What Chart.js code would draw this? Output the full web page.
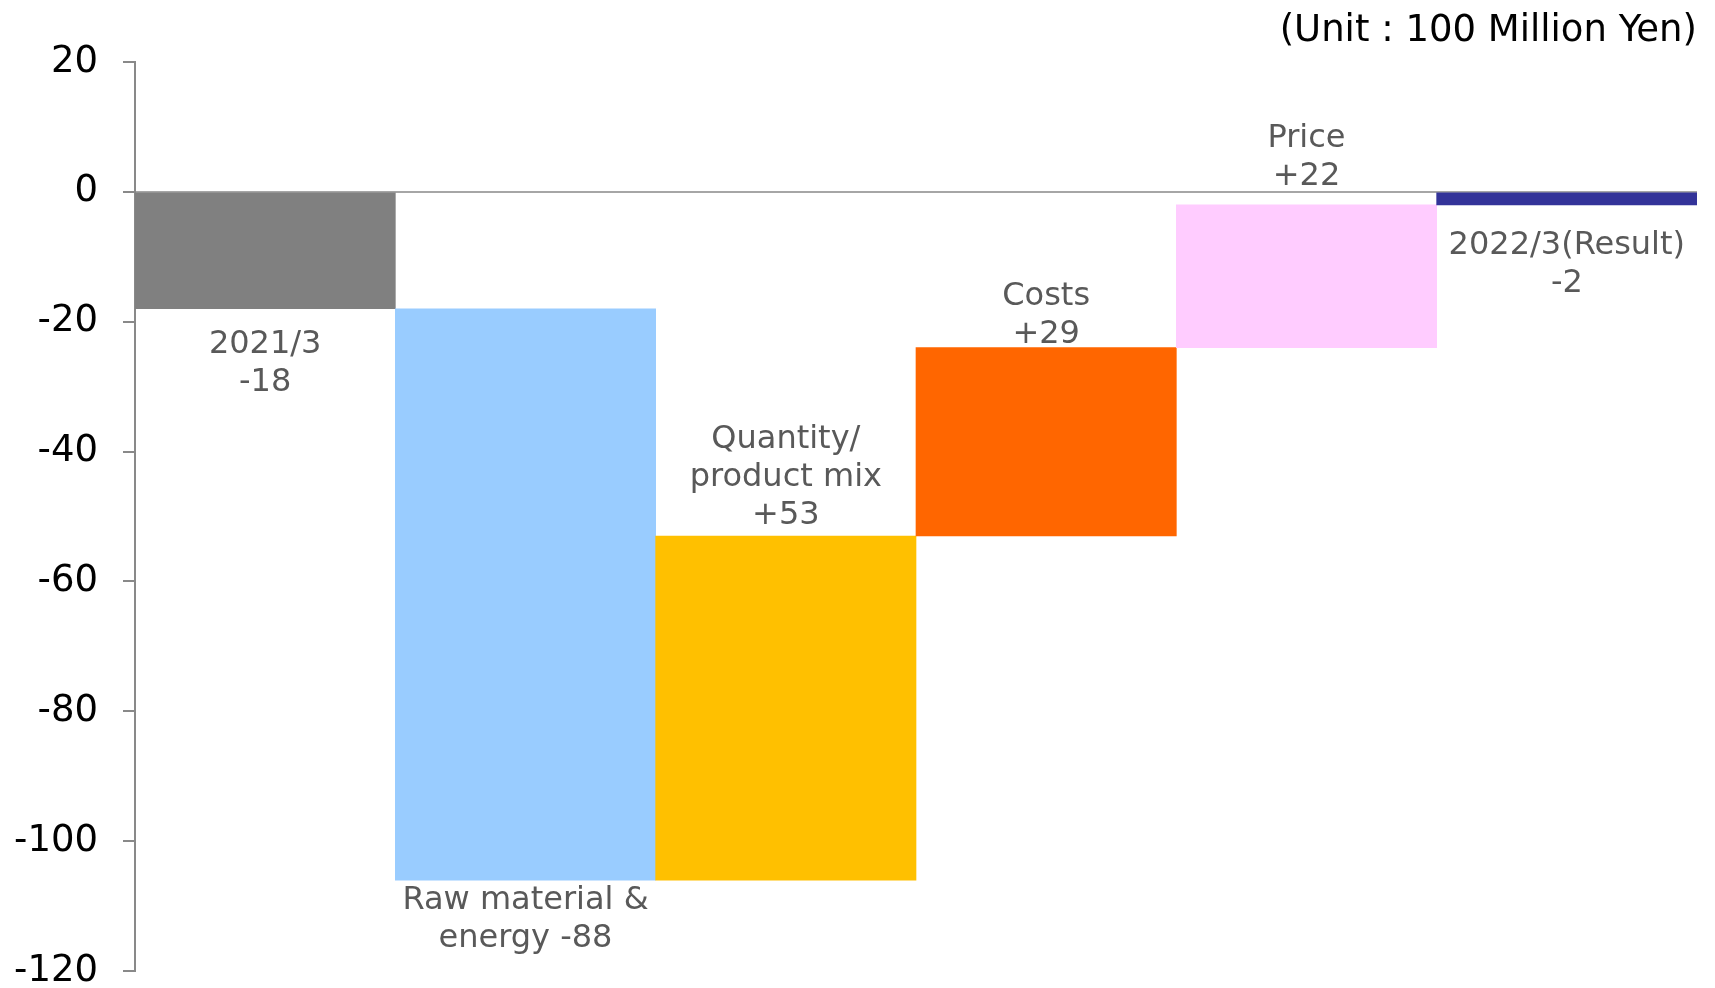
<!DOCTYPE html>
<html>
<head>
<meta charset="utf-8">
<script src="https://cdn.jsdelivr.net/npm/chart.js@4"></script>
<style>
  html, body { margin: 0; padding: 0; background: #fff; }
  #wrap { width: 1715px; height: 988px; }
</style>
</head>
<body>
<div id="wrap"><canvas id="js--chart"></canvas></div>
<script>
// categories and waterfall steps (start, end) in 100 million yen
const categories = ["2021/3", "Raw material & energy", "Quantity/product mix", "Costs", "Price", "2022/3(Result)"];
const barStart = [0, -18, -106, -53, -24, 0];
const barEnd = [-18, -106, -53, -24, -2, -2];
const labelLines = [
  ["2021/3", "-18"],
  ["Raw material &", "energy -88"],
  ["Quantity/", "product mix", "+53"],
  ["Costs", "+29"],
  ["Price", "+22"],
  ["2022/3(Result)", "-2"]
];
const labelBelow = [true, true, false, false, false, true];
const yTicks = [20, 0, -20, -40, -60, -80, -100, -120];
const unitText = "(Unit : 100 Million Yen)";

const barColors = ['#808080', '#99CCFF', '#FFC000', '#FF6600', '#FFCCFF', '#333399'];
// gap between bar edge and nearest label line
const labelGap = [36, 21, 20, 13, 28, 41];

const labelPlugin = {
  id: 'waterfallLabels',
  afterDatasetsDraw(chart) {
    const ctx = chart.ctx;
    const meta = chart.getDatasetMeta(0);
    ctx.save();
    ctx.fillStyle = '#595959';
    ctx.font = '32px "DejaVu Sans"';
    ctx.textAlign = 'center';
    ctx.textBaseline = 'middle';
    const lineH = 38;
    meta.data.forEach(function(bar, i) {
      const lines = labelLines[i];
      const low = Math.max(bar.y, bar.base);
      const high = Math.min(bar.y, bar.base);
      lines.forEach(function(line, j) {
        let y;
        if (labelBelow[i]) {
          y = low + labelGap[i] + j * lineH;
        } else {
          y = high - labelGap[i] - (lines.length - 1 - j) * lineH;
        }
        ctx.fillText(line, bar.x, y);
      });
    });
    // unit note
    ctx.fillStyle = '#000';
    ctx.font = '37px "DejaVu Sans"';
    ctx.textAlign = 'right';
    ctx.fillText(unitText, chart.chartArea.right, 31);
    ctx.restore();
  }
};

const data = {
  labels: categories,
  datasets: [{
    data: barStart.map(function(s, i) { return [s, barEnd[i]]; }),
    backgroundColor: barColors,
    borderWidth: 0,
    barPercentage: 1,
    categoryPercentage: 1
  }]
};

const config = {
  type: 'bar',
  data: data,
  options: {
    responsive: true,
    maintainAspectRatio: false,
    animation: false,
    layout: { padding: { top: 62, right: 18, bottom: 17, left: 0 } },
    plugins: { legend: { display: false }, tooltip: { enabled: false } },
    scales: {
      x: { display: false },
      y: {
        min: -120,
        max: 20,
        afterBuildTicks: function(scale) {
          scale.ticks = yTicks.map(function(v) { return { value: v }; });
        },
        afterFit: function(scale) {
          scale.width = 135;
          scale.paddingTop = 0;
          scale.paddingBottom = 0;
        },
        border: { display: true, color: '#898989', width: 2 },
        grid: {
          color: function(c) { return c.tick && c.tick.value === 0 ? '#A6A6A6' : 'rgba(0,0,0,0)'; },
          lineWidth: 2,
          tickColor: '#898989',
          tickLength: 12
        },
        ticks: {
          color: '#000',
          font: { family: 'DejaVu Sans', size: 37 },
          padding: 25
        }
      }
    }
  },
  plugins: [labelPlugin]
};

new Chart(document.getElementById('js--chart'), config);
</script>
</body>
</html>
